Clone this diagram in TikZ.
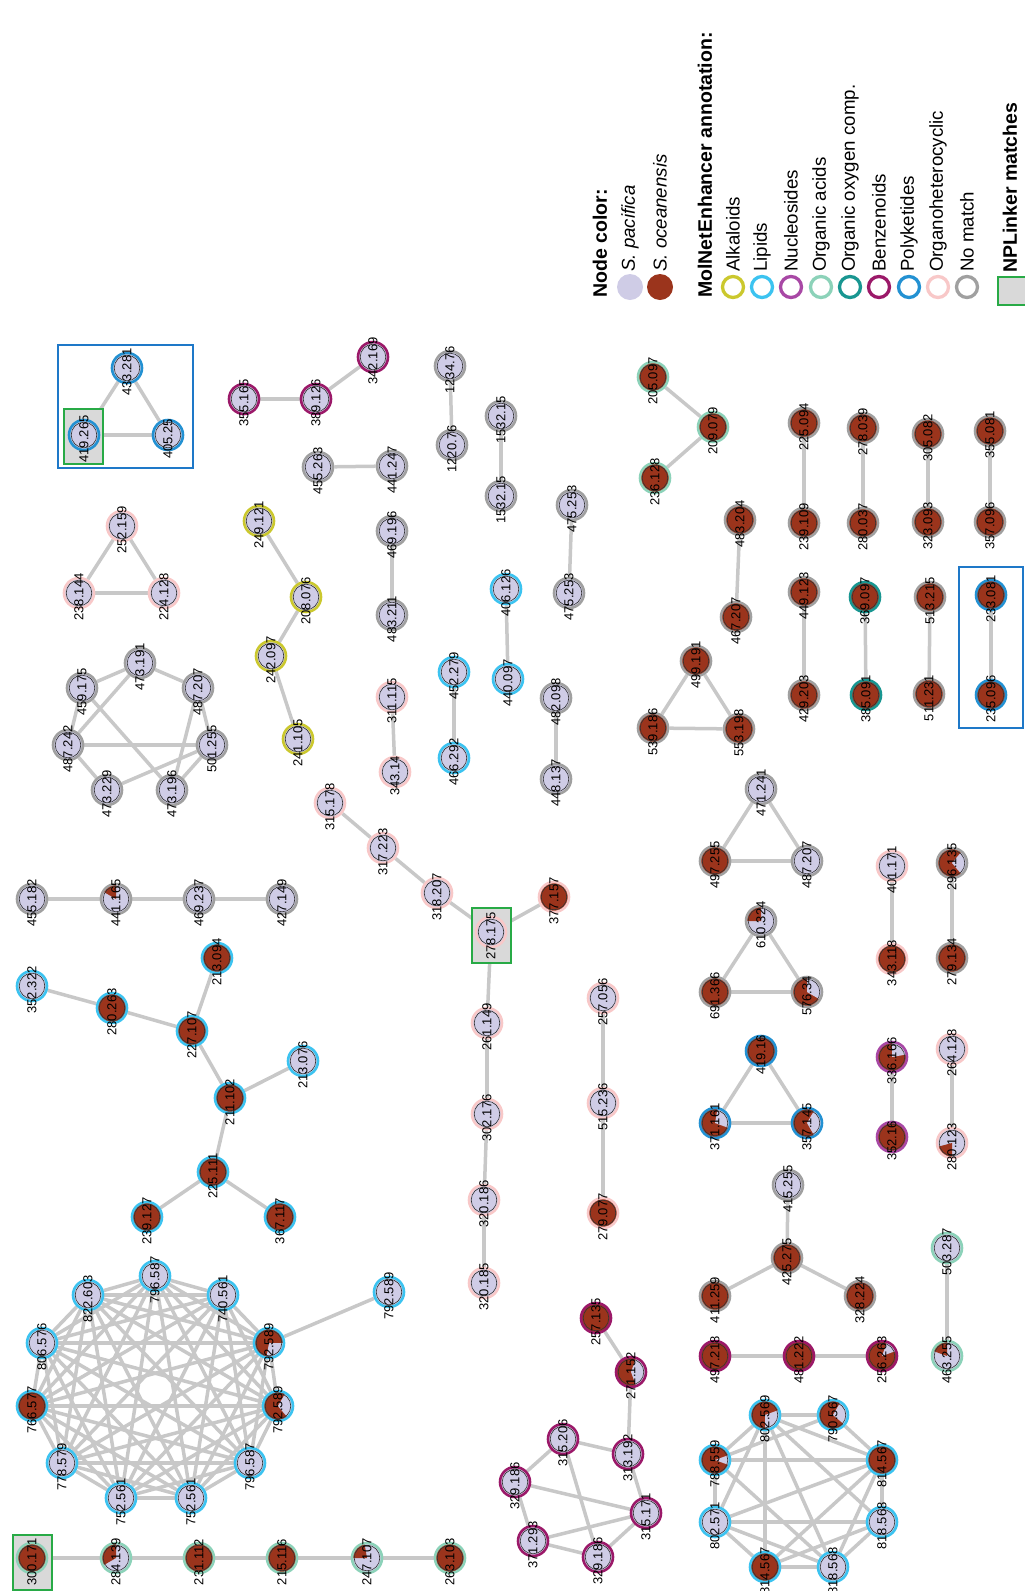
\documentclass[tikz,border=0pt]{standalone}
\usepackage{fontspec}
\setmainfont{Liberation Sans}
\usepackage{graphicx}
\usepackage{xcolor}
\usepackage{tikz}
\usetikzlibrary{backgrounds}

\definecolor{pacc}{RGB}{207,204,230}
\definecolor{ocec}{RGB}{155,52,28}
\definecolor{alk}{RGB}{203,200,46}
\definecolor{lip}{RGB}{60,195,240}
\definecolor{nuc}{RGB}{168,72,165}
\definecolor{oac}{RGB}{140,210,185}
\definecolor{oox}{RGB}{25,150,145}
\definecolor{ben}{RGB}{155,25,105}
\definecolor{pol}{RGB}{35,145,210}
\definecolor{ohc}{RGB}{248,200,200}
\definecolor{nom}{RGB}{160,160,160}
\definecolor{linkc}{RGB}{200,200,200}
\definecolor{nplc}{RGB}{40,170,70}
\definecolor{nplf}{RGB}{217,217,217}
\definecolor{grpc}{RGB}{30,120,200}

\newcommand{\lbl}[1]{\rotatebox{90}{\makebox[0pt]{#1\kern8pt}}}

\begin{document}
\begin{tikzpicture}[x=1pt,y=-1pt,
  mol/.style={circle,minimum size=30pt,inner sep=0pt,line width=2.6pt,font=\fontsize{13}{13}\selectfont,
    path picture={\draw[black!80,line width=.6pt] (path picture bounding box.center) circle[radius=12.8pt];}},
  pac/.style={mol,fill=pacc},
  oce/.style={mol,fill=ocec},
  pie/.style n args={3}{path picture={\fill[#3] (path picture bounding box.center) -- +(#1:17pt) arc[start angle=#1,end angle=#2,radius=17pt] -- cycle;
    \draw[black!80,line width=.6pt] (path picture bounding box.center) circle[radius=12.8pt];}},
  lnk/.style={draw=linkc,line width=3.5pt},
  npl/.style={draw=nplc,fill=nplf,line width=1.8pt},
  grp/.style={draw=grpc,line width=1.8pt},
  key/.style={circle,minimum size=21pt,inner sep=0pt,line width=3.3pt},
  keytxt/.style={rotate=90,anchor=west,inner sep=0pt,font=\fontsize{18.7}{20}\selectfont},
  keyhead/.style={keytxt,font=\fontsize{19.5}{20}\selectfont\bfseries}]
  \useasboundingbox (0,0) rectangle (1025,1591);

  \draw[grp] (58,345) rectangle (193,468);
  \draw[grp] (959,567) rectangle (1023,728);
  \draw[npl] (64,409) rectangle (103,464);
  \draw[npl] (472,908) rectangle (511,963);
  \draw[npl] (13,1535) rectangle (52,1590);

  \node[pac,draw=pol] (v433) at (127,368) {\lbl{433.281}};
  \node[pac,draw=pol] (v419) at (84,435) {\lbl{419.265}};
  \node[pac,draw=pol] (v405) at (168,435) {\lbl{405.25}};

  \node[pac,draw=ben] (v355) at (244,399) {\lbl{355.165}};
  \node[pac,draw=ben] (v389) at (316,399) {\lbl{389.126}};
  \node[pac,draw=ben] (v342) at (373,357) {\lbl{342.169}};

  \node[pac,draw=nom] (v1234) at (450,366) {\lbl{1234.76}};
  \node[pac,draw=nom] (v1220) at (452,445) {\lbl{1220.76}};
  \node[pac,draw=nom] (v1532a) at (501,416) {\lbl{1532.15}};
  \node[pac,draw=nom] (v1532b) at (501,496) {\lbl{1532.15}};
  \node[pac,draw=nom] (v455b) at (318,467) {\lbl{455.263}};
  \node[pac,draw=nom] (v441b) at (392,466) {\lbl{441.247}};
  \node[pac,draw=nom] (v469b) at (392,531) {\lbl{469.196}};
  \node[pac,draw=nom] (v483b) at (392,615) {\lbl{483.211}};
  \node[pac,draw=nom] (v475a) at (572,505) {\lbl{475.253}};
  \node[pac,draw=nom] (v475b) at (569,593) {\lbl{475.253}};
  \node[pac,draw=lip] (v406) at (506,589) {\lbl{406.126}};
  \node[pac,draw=lip] (v440) at (508,679) {\lbl{440.097}};
  \node[pac,draw=lip] (v452) at (454,672) {\lbl{452.279}};
  \node[pac,draw=lip] (v466) at (454,758) {\lbl{466.292}};
  \node[pac,draw=ohc] (v311) at (392,697) {\lbl{311.115}};
  \node[pac,draw=ohc] (v343a) at (395,772) {\lbl{343.14}};
  \node[pac,draw=nom] (v482) at (556,698) {\lbl{482.098}};
  \node[pac,draw=nom] (v448) at (556,779) {\lbl{448.137}};

  \node[pac,draw=ohc] (v252) at (122,526) {\lbl{252.159}};
  \node[pac,draw=ohc] (v238) at (79,593) {\lbl{238.144}};
  \node[pac,draw=ohc] (v224) at (164,593) {\lbl{224.128}};

  \node[pac,draw=alk] (v249) at (259,521) {\lbl{249.121}};
  \node[pac,draw=alk] (v208) at (306,597) {\lbl{208.076}};
  \node[pac,draw=alk] (v242) at (271,656) {\lbl{242.097}};
  \node[pac,draw=alk] (v241) at (298,739) {\lbl{241.105}};

  \node[pac,draw=nom] (h1) at (140,663) {\lbl{473.191}};
  \node[pac,draw=nom] (h2) at (82,688) {\lbl{459.175}};
  \node[pac,draw=nom] (h3) at (198,688) {\lbl{487.207}};
  \node[pac,draw=nom] (h4) at (68,745) {\lbl{487.242}};
  \node[pac,draw=nom] (h5) at (212,745) {\lbl{501.255}};
  \node[pac,draw=nom] (h6) at (107,790) {\lbl{473.229}};
  \node[pac,draw=nom] (h7) at (172,790) {\lbl{473.196}};

  \node[oce,draw=oac] (v205) at (653,377) {\lbl{205.097}};
  \node[oce,draw=oac] (v209) at (713,427) {\lbl{209.079}};
  \node[oce,draw=oac] (v236) at (655,478) {\lbl{236.128}};

  \node[oce,draw=nom] (v225b) at (804,423) {\lbl{225.094}};
  \node[oce,draw=nom] (v239b) at (804,523) {\lbl{239.109}};
  \node[oce,draw=nom] (v278b) at (863,428) {\lbl{278.039}};
  \node[oce,draw=nom] (v280b) at (863,523) {\lbl{280.037}};
  \node[oce,draw=nom] (v305) at (928,434) {\lbl{305.082}};
  \node[oce,draw=nom] (v323) at (928,522) {\lbl{323.093}};
  \node[oce,draw=nom] (v355b) at (990,431) {\lbl{355.081}};
  \node[oce,draw=nom] (v357b) at (990,522) {\lbl{357.096}};
  \node[oce,draw=nom] (v483c) at (740,520) {\lbl{483.204}};
  \node[oce,draw=nom] (v467) at (736,617) {\lbl{467.207}};
  \node[oce,draw=nom] (v449) at (804,592) {\lbl{449.123}};
  \node[oce,draw=nom] (v429) at (804,695) {\lbl{429.203}};
  \node[oce,draw=oox] (v369) at (865,597) {\lbl{369.097}};
  \node[oce,draw=oox] (v385) at (866,695) {\lbl{385.091}};
  \node[oce,draw=nom] (v513) at (930,597) {\lbl{513.215}};
  \node[oce,draw=nom] (v511) at (929,694) {\lbl{511.231}};
  \node[oce,draw=pol] (v233) at (991,595) {\lbl{233.081}};
  \node[oce,draw=pol] (v235) at (991,695) {\lbl{235.096}};

  \node[oce,draw=nom] (v499) at (696,661) {\lbl{499.191}};
  \node[oce,draw=nom] (v539) at (653,728) {\lbl{539.186}};
  \node[oce,draw=nom] (v553) at (739,729) {\lbl{553.198}};

  \node[pac,draw=nom] (v455a) at (32,899) {\lbl{455.182}};
  \node[pac,draw=nom,pie={90}{150}{ocec}] (v441a) at (116,899) {\lbl{441.165}};
  \node[pac,draw=nom] (v469a) at (199,899) {\lbl{469.237}};
  \node[pac,draw=nom] (v427) at (282,899) {\lbl{427.149}};

  \node[pac,draw=lip] (v352a) at (32,986) {\lbl{352.322}};
  \node[oce,draw=lip] (v280a) at (112,1008) {\lbl{280.263}};
  \node[oce,draw=lip] (v227) at (192,1031) {\lbl{227.107}};
  \node[oce,draw=lip] (v213a) at (217,958) {\lbl{213.094}};
  \node[oce,draw=lip] (v211) at (230,1098) {\lbl{211.102}};
  \node[pac,draw=lip] (v213b) at (303,1061) {\lbl{213.076}};
  \node[oce,draw=lip] (v225a) at (213,1172) {\lbl{225.111}};
  \node[oce,draw=lip] (v239a) at (147,1217) {\lbl{239.127}};
  \node[oce,draw=lip] (v367) at (280,1217) {\lbl{367.117}};

  \node[pac,draw=ohc] (v315a) at (330,803) {\lbl{315.178}};
  \node[pac,draw=ohc] (v317) at (383,848) {\lbl{317.223}};
  \node[pac,draw=ohc] (v318) at (437,893) {\lbl{318.207}};
  \node[pac,draw=ohc] (v278a) at (491,932) {\lbl{278.175}};
  \node[oce,draw=ohc] (v377) at (554,897) {\lbl{377.157}};
  \node[pac,draw=ohc] (v261) at (487,1023) {\lbl{261.149}};
  \node[pac,draw=ohc] (v302) at (487,1114) {\lbl{302.176}};
  \node[pac,draw=ohc] (v320a) at (484,1200) {\lbl{320.186}};
  \node[pac,draw=ohc] (v320b) at (484,1283) {\lbl{320.185}};
  \node[pac,draw=ohc] (v257a) at (603,998) {\lbl{257.056}};
  \node[pac,draw=ohc] (v515) at (603,1103) {\lbl{515.236}};
  \node[oce,draw=ohc] (v279a) at (603,1213) {\lbl{279.077}};

  \node[pac,draw=nom] (v471) at (761,789) {\lbl{471.241}};
  \node[oce,draw=nom] (v497a) at (715,861) {\lbl{497.255}};
  \node[pac,draw=nom] (v487) at (807,861) {\lbl{487.207}};
  \node[pac,draw=nom,pie={90}{180}{ocec}] (v610) at (761,921) {\lbl{610.324}};
  \node[oce,draw=nom] (v691) at (715,992) {\lbl{691.366}};
  \node[oce,draw=nom,pie={-30}{90}{pacc}] (v576) at (807,992) {\lbl{576.34}};
  \node[oce,draw=pol] (v419b) at (761,1051) {\lbl{419.16}};
  \node[oce,draw=pol,pie={-20}{80}{pacc}] (v371a) at (715,1123) {\lbl{371.161}};
  \node[oce,draw=pol,pie={-60}{60}{pacc}] (v357a) at (807,1123) {\lbl{357.145}};

  \node[pac,draw=ohc] (v401) at (892,866) {\lbl{401.171}};
  \node[oce,draw=ohc] (v343b) at (892,959) {\lbl{343.118}};
  \node[oce,draw=nom,pie={-50}{50}{pacc}] (v296) at (952,863) {\lbl{296.135}};
  \node[oce,draw=nom] (v279b) at (952,958) {\lbl{279.134}};
  \node[oce,draw=nuc,pie={10}{90}{pacc}] (v336) at (892,1057) {\lbl{336.166}};
  \node[oce,draw=nuc] (v352b) at (892,1137) {\lbl{352.16}};
  \node[pac,draw=ohc] (v264) at (952,1049) {\lbl{264.128}};
  \node[pac,draw=ohc,pie={195}{270}{ocec}] (v280c) at (952,1143) {\lbl{280.123}};

  \node[pac,draw=nom] (v415) at (788,1185) {\lbl{415.255}};
  \node[oce,draw=nom] (v425) at (787,1258) {\lbl{425.275}};
  \node[oce,draw=nom] (v411) at (715,1296) {\lbl{411.259}};
  \node[oce,draw=nom] (v328) at (860,1296) {\lbl{328.224}};
  \node[oce,draw=ben] (v497b) at (715,1356) {\lbl{497.218}};
  \node[oce,draw=ben] (v481) at (799,1356) {\lbl{481.222}};
  \node[oce,draw=ben,pie={20}{70}{pacc}] (v256) at (882,1356) {\lbl{256.263}};
  \node[pac,draw=oac] (v503) at (947,1248) {\lbl{503.287}};
  \node[pac,draw=oac,pie={90}{160}{ocec}] (v463) at (947,1356) {\lbl{463.255}};

  \node[oce,draw=lip,pie={-90}{20}{pacc}] (o1) at (765,1415) {\lbl{802.569}};
  \node[oce,draw=lip,pie={-40}{60}{pacc}] (o2) at (833,1415) {\lbl{790.567}};
  \node[oce,draw=lip,pie={-20}{20}{pacc}] (o3) at (715,1460) {\lbl{788.559}};
  \node[oce,draw=lip] (o4) at (882,1460) {\lbl{814.567}};
  \node[pac,draw=lip] (o5) at (715,1522) {\lbl{802.571}};
  \node[pac,draw=lip] (o6) at (882,1522) {\lbl{818.568}};
  \node[oce,draw=lip] (o7) at (765,1567) {\lbl{814.567}};
  \node[pac,draw=lip] (o8) at (833,1567) {\lbl{818.568}};

  \node[pac,draw=lip] (d1) at (155,1276) {\lbl{796.587}};
  \node[pac,draw=lip] (d2) at (223,1295) {\lbl{740.561}};
  \node[oce,draw=lip,pie={-100}{0}{pacc}] (d3) at (269,1343) {\lbl{792.589}};
  \node[oce,draw=lip,pie={-50}{60}{pacc}] (d4) at (278,1406) {\lbl{792.589}};
  \node[pac,draw=lip] (d5) at (250,1463) {\lbl{796.587}};
  \node[pac,draw=lip] (d6) at (191,1498) {\lbl{752.561}};
  \node[pac,draw=lip] (d7) at (121,1498) {\lbl{752.561}};
  \node[pac,draw=lip] (d8) at (62,1463) {\lbl{778.579}};
  \node[oce,draw=lip] (d9) at (32,1406) {\lbl{766.577}};
  \node[pac,draw=lip] (d10) at (42,1343) {\lbl{806.576}};
  \node[pac,draw=lip] (d11) at (88,1295) {\lbl{822.603}};
  \node[pac,draw=lip] (v792) at (389,1292) {\lbl{792.589}};

  \node[oce,draw=oac] (v300) at (32,1558) {\lbl{300.171}};
  \node[pac,draw=oac,pie={90}{210}{ocec}] (v284) at (116,1558) {\lbl{284.139}};
  \node[oce,draw=oac] (v231) at (199,1558) {\lbl{231.112}};
  \node[oce,draw=oac] (v215) at (282,1558) {\lbl{215.116}};
  \node[pac,draw=oac,pie={100}{180}{ocec}] (v247) at (367,1558) {\lbl{247.107}};
  \node[oce,draw=oac] (v263) at (450,1558) {\lbl{263.103}};

  \node[oce,draw=ben] (v257b) at (596,1318) {\lbl{257.135}};
  \node[oce,draw=ben,pie={-70}{70}{pacc}] (v271) at (631,1372) {\lbl{271.152}};
  \node[pac,draw=ben] (v315b) at (563,1439) {\lbl{315.206}};
  \node[pac,draw=ben] (v313) at (628,1454) {\lbl{313.192}};
  \node[pac,draw=ben] (v329a) at (515,1482) {\lbl{329.186}};
  \node[pac,draw=ben] (v315c) at (646,1513) {\lbl{315.171}};
  \node[pac,draw=ben] (v371b) at (533,1541) {\lbl{371.293}};
  \node[pac,draw=ben] (v329b) at (598,1557) {\lbl{329.186}};

  \begin{scope}[on background layer]
    \draw[lnk] (v433) edge (v419) edge (v405) (v419) edge (v405);
    \draw[lnk] (v355) edge (v389) (v389) edge (v342);
    \draw[lnk] (v1234) edge (v1220) (v1532a) edge (v1532b) (v455b) edge (v441b) (v469b) edge (v483b);
    \draw[lnk] (v475a) edge (v475b) (v406) edge (v440) (v452) edge (v466) (v311) edge (v343a) (v482) edge (v448);
    \draw[lnk] (v252) edge (v238) edge (v224) (v238) edge (v224);
    \draw[lnk] (v249) edge (v208) (v208) edge (v242) (v242) edge (v241);
    \draw[lnk] (h1) edge (h2) edge (h3) edge (h4) (h2) edge (h4) edge (h7) (h3) edge (h5) edge (h7);
    \draw[lnk] (h4) edge (h5) edge (h6) (h5) edge (h6) edge (h7);
    \draw[lnk] (v205) edge (v209) (v236) edge (v209);
    \draw[lnk] (v225b) edge (v239b) (v278b) edge (v280b) (v305) edge (v323) (v355b) edge (v357b);
    \draw[lnk] (v483c) edge (v467) (v449) edge (v429) (v369) edge (v385) (v513) edge (v511) (v233) edge (v235);
    \draw[lnk] (v499) edge (v539) edge (v553) (v539) edge (v553);
    \draw[lnk] (v455a) edge (v441a) (v441a) edge (v469a) (v469a) edge (v427);
    \draw[lnk] (v352a) edge (v280a) (v280a) edge (v227) (v227) edge (v213a) edge (v211);
    \draw[lnk] (v211) edge (v213b) edge (v225a) (v225a) edge (v239a) edge (v367);
    \draw[lnk] (v315a) edge (v317) (v317) edge (v318) (v318) edge (v278a) (v278a) edge (v377) edge (v261);
    \draw[lnk] (v261) edge (v302) (v302) edge (v320a) (v320a) edge (v320b);
    \draw[lnk] (v257a) edge (v515) (v515) edge (v279a);
    \draw[lnk] (v471) edge (v497a) edge (v487) (v497a) edge (v487);
    \draw[lnk] (v610) edge (v691) edge (v576) (v691) edge (v576);
    \draw[lnk] (v419b) edge (v371a) edge (v357a) (v371a) edge (v357a);
    \draw[lnk] (v401) edge (v343b) (v296) edge (v279b) (v336) edge (v352b) (v264) edge (v280c);
    \draw[lnk] (v425) edge (v415) edge (v411) edge (v328);
    \draw[lnk] (v497b) edge (v481) (v481) edge (v256) (v503) edge (v463);
    \draw[lnk] (o1) edge (o2) edge (o3) edge (o4) edge (o5) edge (o6) edge (o7) edge (o8);
    \draw[lnk] (o2) edge (o3) edge (o4) (o3) edge (o4) edge (o5) edge (o8);
    \draw[lnk] (o4) edge (o5) edge (o6) edge (o7) edge (o8) (o5) edge (o6) edge (o7) edge (o8);
    \draw[lnk] (o6) edge (o7) edge (o8) (o7) edge (o8);
    \draw[lnk] (d1) edge (d2) edge (d3) edge (d4) edge (d5) edge (d6) edge (d7) edge (d8) edge (d9) edge (d10) edge (d11);
    \draw[lnk] (d2) edge (d3) edge (d4) edge (d5) edge (d6) edge (d7) edge (d8) edge (d9) edge (d10) edge (d11);
    \draw[lnk] (d3) edge (d4) edge (d5) edge (d6) edge (d7) edge (d8) edge (d9) edge (d10) edge (d11);
    \draw[lnk] (d4) edge (d5) edge (d6) edge (d7) edge (d8) edge (d9) edge (d10) edge (d11);
    \draw[lnk] (d5) edge (d6) edge (d7) edge (d8) edge (d9) edge (d10) edge (d11);
    \draw[lnk] (d6) edge (d7) edge (d8) edge (d9) edge (d10) edge (d11);
    \draw[lnk] (d7) edge (d8) edge (d9) edge (d10) edge (d11);
    \draw[lnk] (d8) edge (d9) edge (d10) edge (d11) (d9) edge (d10) edge (d11) (d10) edge (d11);
    \draw[lnk] (d3) edge (v792);
    \draw[lnk] (v300) edge (v284) (v284) edge (v231) (v231) edge (v215) (v215) edge (v247) (v247) edge (v263);
    \draw[lnk] (v257b) edge (v271) (v271) edge (v313) (v313) edge (v315b) edge (v315c);
    \draw[lnk] (v315b) edge (v329a) edge (v329b) (v329a) edge (v371b) edge (v315c);
    \draw[lnk] (v371b) edge (v329b) edge (v315c) (v329b) edge (v315c);
  \end{scope}

  \node[keyhead] (tcol) at (600,298) {Node color:};
  \node[circle,fill=pacc,minimum size=26pt,inner sep=0pt] (kpac) at (630,287) {};
  \node[circle,fill=ocec,minimum size=26pt,inner sep=0pt] (koce) at (660,287) {};
  \node[keytxt,font=\fontsize{18.7}{20}\selectfont\itshape] (tpac) at (630,272) {S. pacifica};
  \node[keytxt,font=\fontsize{18.7}{20}\selectfont\itshape] (toce) at (660,272) {S. oceanensis};
  \node[keyhead] (tann) at (705,298) {MolNetEnhancer annotation:};
  \node[key,draw=alk] (kalk) at (733,287) {};
  \node[key,draw=lip] (klip) at (762,287) {};
  \node[key,draw=nuc] (knuc) at (791,287) {};
  \node[key,draw=oac] (koac) at (821,287) {};
  \node[key,draw=oox] (koox) at (850,287) {};
  \node[key,draw=ben] (kben) at (879,287) {};
  \node[key,draw=pol] (kpol) at (909,287) {};
  \node[key,draw=ohc] (kohc) at (938,287) {};
  \node[key,draw=nom] (knom) at (967,287) {};
  \node[keytxt] (talk) at (733,272) {Alkaloids};
  \node[keytxt] (tlip) at (762,272) {Lipids};
  \node[keytxt] (tnuc) at (791,272) {Nucleosides};
  \node[keytxt] (toac) at (821,272) {Organic acids};
  \node[keytxt] (toox) at (850,272) {Organic oxygen comp.};
  \node[keytxt] (tben) at (879,272) {Benzenoids};
  \node[keytxt] (tpol) at (909,272) {Polyketides};
  \node[keytxt] (tohc) at (938,272) {Organoheterocyclic};
  \node[keytxt] (tnom) at (967,272) {No match};
  \draw[npl] (998,277) rectangle (1028,305);
  \node[keyhead] (tnpl) at (1010,273) {NPLinker matches};
\end{tikzpicture}
\end{document}
